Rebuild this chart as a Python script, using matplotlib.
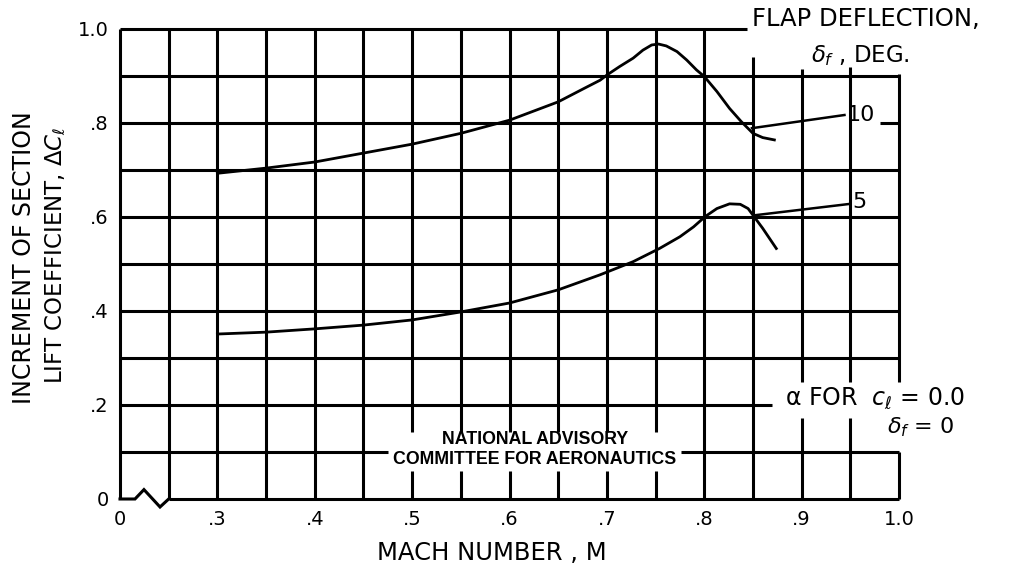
import matplotlib
matplotlib.use("Agg")
import matplotlib.pyplot as plt

# ---- data ----
mach_10 = [0.30, 0.35, 0.40, 0.45, 0.50, 0.55, 0.60, 0.65, 0.677, 0.693, 0.700,
           0.713, 0.727, 0.737, 0.746, 0.753, 0.761, 0.772, 0.782, 0.792, 0.800,
           0.813, 0.826, 0.838, 0.850, 0.860, 0.872]
dcl_10 = [0.693, 0.704, 0.717, 0.736, 0.755, 0.778, 0.806, 0.845, 0.874, 0.891, 0.902,
          0.920, 0.938, 0.955, 0.966, 0.968, 0.964, 0.952, 0.934, 0.913, 0.899,
          0.867, 0.831, 0.803, 0.778, 0.769, 0.764]

mach_5 = [0.30, 0.35, 0.40, 0.45, 0.50, 0.55, 0.60, 0.65, 0.693, 0.727, 0.754,
          0.775, 0.789, 0.801, 0.813, 0.826, 0.837, 0.845, 0.850, 0.860, 0.874]
dcl_5 = [0.351, 0.355, 0.362, 0.370, 0.381, 0.398, 0.417, 0.445, 0.477, 0.505, 0.533,
         0.558, 0.579, 0.601, 0.618, 0.628, 0.627, 0.618, 0.604, 0.576, 0.533]

x_ticks = [0.2, 0.3, 0.4, 0.5, 0.6, 0.7, 0.8, 0.9, 1.0]
x_ticklabels = ["0", ".3", ".4", ".5", ".6", ".7", ".8", ".9", "1.0"]
y_ticks = [0.0, 0.2, 0.4, 0.6, 0.8, 1.0]
y_ticklabels = ["0", ".2", ".4", ".6", ".8", "1.0"]

flap_labels = ["10", "5"]

plt.rcParams['font.family'] = ['DejaVu Sans']
plt.rcParams['mathtext.fontset'] = 'dejavusans'

fig = plt.figure(figsize=(10.18, 5.76), dpi=100)
ax = fig.add_axes([120 / 1018, 77 / 576, 779 / 1018, 470 / 576])
ax.set_xlim(0.2, 1.0)
ax.set_ylim(0.0, 1.0)
for s in ax.spines.values():
    s.set_visible(False)

LW = 2.2
K = "black"

# horizontal grid lines (with gaps where lettering sits)
hsegs = {
    0.0: [(0.25, 1.0)],
    0.1: [(0.2, 0.475), (0.776, 1.0)],
    0.2: [(0.2, 0.870)],
    0.3: [(0.2, 1.0)],
    0.4: [(0.2, 1.0)],
    0.5: [(0.2, 1.0)],
    0.6: [(0.2, 1.0)],
    0.7: [(0.2, 1.0)],
    0.8: [(0.2, 0.85), (0.98, 1.0)],
    0.9: [(0.2, 1.0)],
    1.0: [(0.2, 0.844)],
}
for y, segs in hsegs.items():
    for a, b in segs:
        ax.hlines(y, a, b, colors=K, lw=LW, clip_on=False, zorder=2)

vsegs = {
    0.20: [(0.0, 1.0)],
    0.25: [(0.0, 1.0)],
    0.30: [(0.0, 1.0)],
    0.35: [(0.0, 1.0)],
    0.40: [(0.0, 1.0)],
    0.45: [(0.0, 1.0)],
    0.50: [(0.0, 0.06), (0.143, 1.0)],
    0.55: [(0.0, 0.06), (0.143, 1.0)],
    0.60: [(0.0, 0.06), (0.143, 1.0)],
    0.65: [(0.0, 0.06), (0.143, 1.0)],
    0.70: [(0.0, 0.06), (0.143, 1.0)],
    0.75: [(0.0, 0.06), (0.143, 1.0)],
    0.80: [(0.0, 1.0)],
    0.85: [(0.0, 0.94)],
    0.90: [(0.0, 0.172), (0.249, 0.915)],
    0.95: [(0.0, 0.172), (0.249, 0.92)],
    1.00: [(0.0, 0.1), (0.249, 0.905)],
}
for x, segs in vsegs.items():
    for a, b in segs:
        ax.vlines(x, a, b, colors=K, lw=LW, clip_on=False, zorder=2)

# axis break zigzag
ax.plot([0.2, 0.2154, 0.2246, 0.2411, 0.25], [0.0, 0.0, 0.02, -0.017, 0.0],
        color=K, lw=LW, clip_on=False, solid_joinstyle='miter')

# curves
ax.plot(mach_10, dcl_10, color=K, lw=2.0, clip_on=False, zorder=3,
        solid_joinstyle='round')
ax.plot(mach_5, dcl_5, color=K, lw=2.0, clip_on=False, zorder=3,
        solid_joinstyle='round')

# leader lines and curve labels
ax.plot([0.849, 0.944], [0.789, 0.817], color=K, lw=1.8, zorder=3)
ax.text(0.946, 0.818, flap_labels[0], fontsize=16, va='center', ha='left')
ax.plot([0.853, 0.95], [0.604, 0.628], color=K, lw=1.8, zorder=3)
ax.text(0.952, 0.632, flap_labels[1], fontsize=16, va='center', ha='left')

# ticks
ax.set_xticks(x_ticks)
ax.set_xticklabels(x_ticklabels, fontsize=14)
ax.set_yticks(y_ticks)
ax.set_yticklabels(y_ticklabels, fontsize=14)
ax.tick_params(length=0)
ax.tick_params(axis='x', pad=8)
ax.tick_params(axis='y', pad=8)

# axis titles
fig.text(492 / 1018, 1 - 553 / 576, "MACH NUMBER , M", fontsize=17.5,
         ha='center', va='center')
fig.text(24 / 1018, 1 - 258 / 576, "INCREMENT OF SECTION", fontsize=17,
         rotation=90, ha='center', va='center')
fig.text(56 / 1018, 1 - 255 / 576, r"LIFT COEFFICIENT, $\Delta C_\ell$", fontsize=16.5,
         rotation=90, ha='center', va='center')

# legend-like lettering
ax.text(0.849, 1.022, "FLAP DEFLECTION,", fontsize=17.5, ha='left', va='center',
        clip_on=False)
ax.text(0.960, 0.943, r"$\delta_f$ , DEG.", fontsize=16.5, ha='center', va='center',
        clip_on=False)
ax.text(0.883, 0.215, r"α FOR  $c_\ell$ = 0.0", fontsize=17, ha='left', va='center',
        clip_on=False)
ax.text(0.988, 0.152, r"$\delta_f$ = 0", fontsize=16, ha='left', va='center',
        clip_on=False)

ax.text(0.626, 0.127, "NATIONAL ADVISORY", fontsize=12.8, fontweight='bold',
        family='Liberation Sans', ha='center', va='center')
ax.text(0.626, 0.085, "COMMITTEE FOR AERONAUTICS", fontsize=12.8, fontweight='bold',
        family='Liberation Sans', ha='center', va='center')

fig.savefig("out.png", dpi=100, facecolor="white")
